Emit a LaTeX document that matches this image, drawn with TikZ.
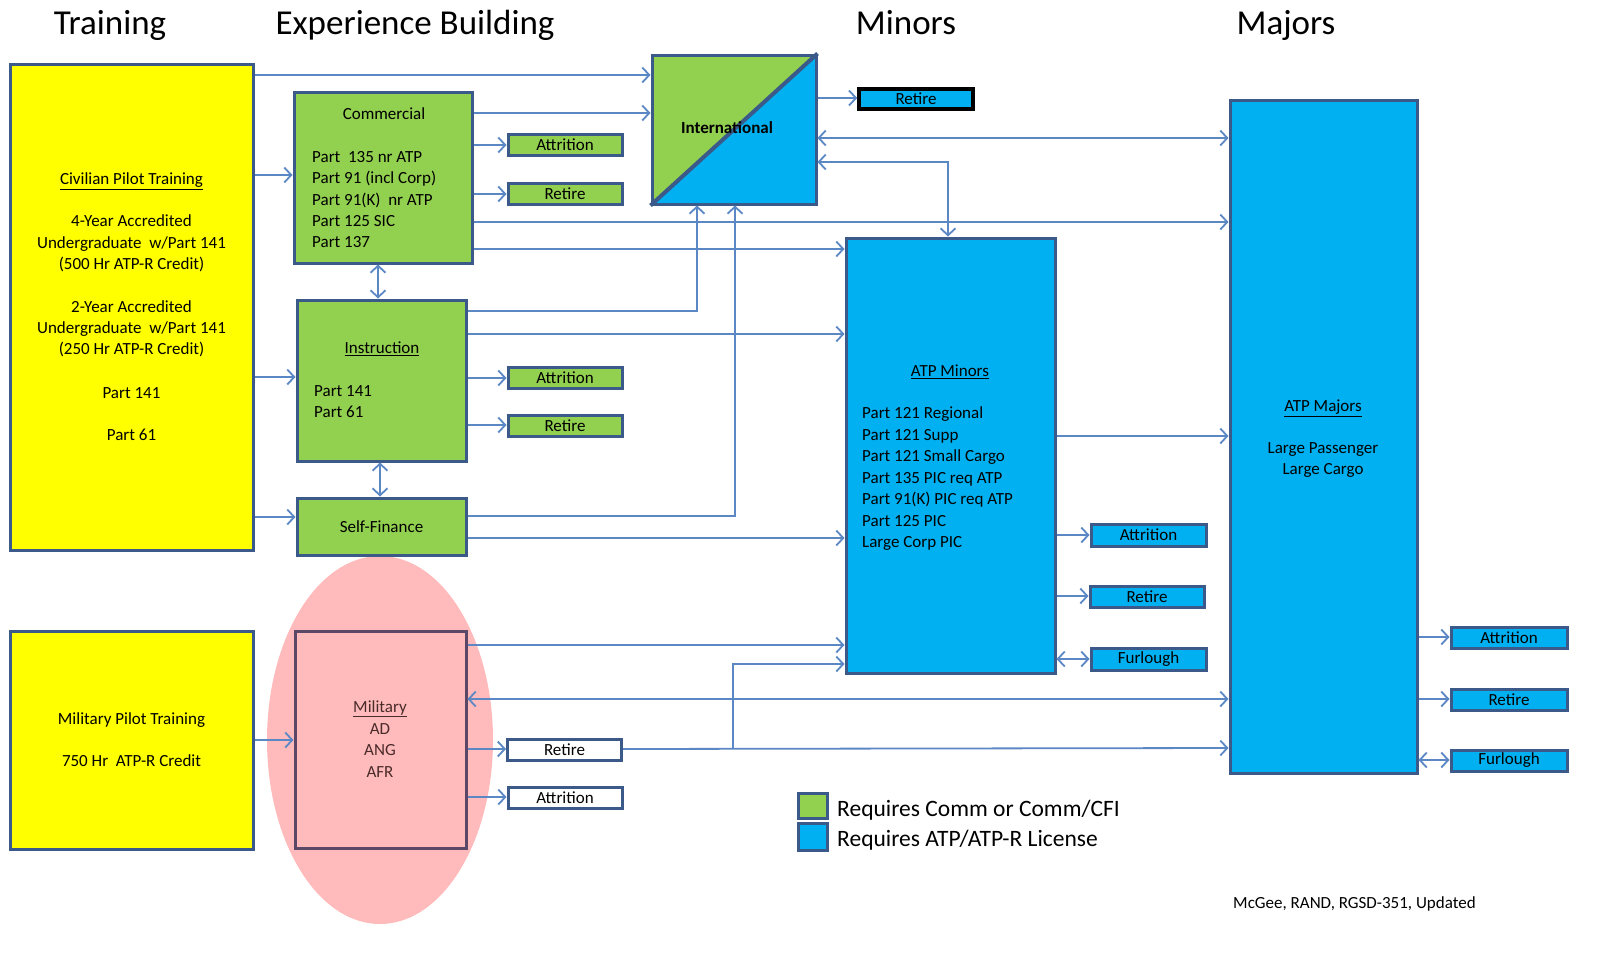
\documentclass[tikz,border=0pt]{standalone}
\usepackage{fontspec}
\setmainfont{Carlito}
\usetikzlibrary{arrows.meta}
\definecolor{cyel}{HTML}{FFFF00}
\definecolor{cgrn}{HTML}{92D050}
\definecolor{cblu}{HTML}{00B0F0}
\definecolor{cbrd}{HTML}{3B5A8A}
\definecolor{cline}{HTML}{5B87C5}
\definecolor{cpink}{HTML}{FFBBBB}
\definecolor{cmilb}{HTML}{5B4866}
\definecolor{cmilt}{HTML}{4A2A2A}
\begin{document}
\begin{tikzpicture}[x=1pt,y=-1pt,
  box/.style={draw=cbrd, line width=3pt, rectangle, inner sep=0pt},
  ybox/.style={box, fill=cyel},
  gbox/.style={box, fill=cgrn},
  bbox/.style={box, fill=cblu},
  wbox/.style={box, fill=white},
  small/.style={minimum width=114pt, minimum height=21pt, font=\fontsize{17}{20}\selectfont},
  txt/.style={inner sep=0pt, font=\fontsize{17}{20}\selectfont},
  head/.style={inner sep=0pt, font=\fontsize{35}{40}\selectfont, anchor=base},
  conn/.style={draw=cline, line width=1.8pt, -{Straight Barb[length=7pt,width=15pt]}},
  dconn/.style={draw=cline, line width=1.8pt, {Straight Barb[length=7pt,width=15pt]}-{Straight Barb[length=7pt,width=15pt]}},
]
\useasboundingbox (0,0) rectangle (1617,953);
\fill[white] (0,0) rectangle (1617,953);

% headings
\node[head] (hTrain) at (110,34) {Training};
\node[head] (hExp) at (415,34) {Experience Building};
\node[head] (hMin) at (906,34) {Minors};
\node[head] (hMaj) at (1286,34) {Majors};

% pink ellipse
\fill[cpink] (380,740) ellipse [x radius=113pt, y radius=184pt];

% training boxes
\node[ybox, minimum width=243pt, minimum height=486pt] (civ) at (131.5,307) {};
\node[ybox, minimum width=243pt, minimum height=218pt] (miltr) at (131.5,740) {};

% experience boxes
\node[gbox, minimum width=178pt, minimum height=171pt] (comm) at (383,177.5) {};
\node[gbox, minimum width=169pt, minimum height=161pt] (instr) at (381.5,380.5) {};
\node[gbox, minimum width=169pt, minimum height=57pt, txt] (selff) at (381.5,526.5) {Self-Finance};
\node[draw=cmilb, line width=3pt, fill=cpink, minimum width=171pt, minimum height=217pt, inner sep=0pt] (milb) at (380.5,739.5) {};

% small exit boxes
\node[gbox, small] (cattr) at (565,144.5) {Attrition};
\node[gbox, small] (cret) at (565,194) {Retire};
\node[gbox, small] (iattr) at (565,378) {Attrition};
\node[gbox, small] (iret) at (565,425.5) {Retire};
\node[wbox, small] (mret) at (564.5,749.5) {Retire};
\node[wbox, small] (mattr) at (565,798) {Attrition};

% international
\node[box, minimum width=164pt, minimum height=149pt,
  path picture={
    \fill[cgrn] (path picture bounding box.north west) -- (path picture bounding box.north east) -- (path picture bounding box.south west) -- cycle;
    \fill[cblu] (path picture bounding box.north east) -- (path picture bounding box.south east) -- (path picture bounding box.south west) -- cycle;
  }] (intl) at (734,129.5) {};
\draw[cbrd, line width=4pt] (intl.south west) -- (intl.north east);
\node[txt, font=\fontsize{17}{20}\selectfont\bfseries] (intlt) at (727,128) {International};
\node[draw=black, line width=3.5pt, fill=cblu, minimum width=114pt, minimum height=20pt, inner sep=0pt, font=\fontsize{17}{20}\selectfont] (intlret) at (916,99) {Retire};

% minors
\node[bbox, minimum width=209pt, minimum height=435pt] (minors) at (950.5,455.5) {};
\node[bbox, minimum width=115pt, minimum height=22pt, font=\fontsize{17}{20}\selectfont] (nattr) at (1148.5,535) {Attrition};
\node[bbox, minimum width=114pt, minimum height=21pt, font=\fontsize{17}{20}\selectfont] (nret) at (1147,596.5) {Retire};
\node[bbox, minimum width=115pt, minimum height=22pt, font=\fontsize{17}{20}\selectfont] (nfurl) at (1148.5,659) {Furlough};

% majors
\node[bbox, minimum width=187pt, minimum height=673pt] (majors) at (1323.5,436.5) {};
\node[bbox, minimum width=116pt, minimum height=21pt, font=\fontsize{17}{20}\selectfont] (jattr) at (1509,637.5) {Attrition};
\node[bbox, minimum width=116pt, minimum height=21pt, font=\fontsize{17}{20}\selectfont] (jret) at (1509,699.5) {Retire};
\node[bbox, minimum width=116pt, minimum height=21pt, font=\fontsize{17}{20}\selectfont] (jfurl) at (1509,760.5) {Furlough};

% texts in civilian box
\foreach \y/\t [count=\i] in {179/{\underline{Civilian Pilot Training}}, 221/{4-Year Accredited}, 243/{Undergraduate\ \ w/Part 141}, 264/{(500 Hr ATP-R Credit)}, 307/{2-Year Accredited}, 328/{Undergraduate\ \ w/Part 141}, 349/{(250 Hr ATP-R Credit)}, 393/{Part 141}, 435/{Part 61}}
  \node[txt, anchor=base] (civt\i) at (131.5,{\y+5.5}) {\t};
% military pilot training
\node[txt, anchor=base] (miltr1) at (131.5,724.5) {Military Pilot Training};
\node[txt, anchor=base] (miltr2) at (131.5,766.5) {750 Hr\ \ ATP-R Credit};
% commercial
\node[txt, anchor=base] (commt) at (384,119.5) {Commercial};
\foreach \t [count=\i] in {Part\ \ 135 nr ATP, Part 91 (incl Corp), Part 91(K)\ \ nr ATP, Part 125 SIC, Part 137}
  \node[txt, anchor=base west] (commt\i) at (312,{162.5+(\i-1)*21.3}) {\t};
% instruction
\node[txt, anchor=base] (instrt) at (382,353.5) {\underline{Instruction}};
\node[txt, anchor=base west] (instrt1) at (314,396.5) {Part 141};
\node[txt, anchor=base west] (instrt2) at (314,417.5) {Part 61};
% military
\node[txt, anchor=base, text=cmilt] (milt1) at (380,712.5) {\underline{Military}};
\node[txt, anchor=base, text=cmilt] (milt2) at (380,734) {AD};
\node[txt, anchor=base, text=cmilt] (milt3) at (380,755.5) {ANG};
\node[txt, anchor=base, text=cmilt] (milt4) at (380,777) {AFR};
% minors
\node[txt, anchor=base] (mint) at (950,376.5) {\underline{ATP Minors}};
\foreach \t [count=\i] in {Part 121 Regional, Part 121 Supp, Part 121 Small Cargo, Part 135 PIC req ATP, Part 91(K) PIC req ATP, Part 125 PIC, Large Corp PIC}
  \node[txt, anchor=base west] (mint\i) at (862,{418.5+(\i-1)*21.5}) {\t};
% majors
\node[txt, anchor=base] (majt) at (1323,411.5) {\underline{ATP Majors}};
\node[txt, anchor=base] (majt1) at (1323,453.5) {Large Passenger};
\node[txt, anchor=base] (majt2) at (1323,474.5) {Large Cargo};

% legend
\node[box, fill=cgrn, minimum width=29pt, minimum height=25pt] (lg1) at (812.5,805.5) {};
\node[box, fill=cblu, minimum width=29pt, minimum height=27pt] (lg2) at (812.5,836.5) {};
\node[inner sep=0pt, anchor=base west, font=\fontsize{23.5}{28}\selectfont] (lg1t) at (837,816) {Requires Comm or Comm/CFI};
\node[inner sep=0pt, anchor=base west, font=\fontsize{23.5}{28}\selectfont] (lg2t) at (837,846.5) {Requires ATP/ATP-R License};
\node[txt, anchor=base west] (cite) at (1233,908.5) {McGee, RAND, RGSD-351, Updated};

% connectors from training
\draw[conn] (civ.east |- 0,75) -- (intl.west |- 0,75);
\draw[conn] (civ.east |- 0,175) -- (comm.west |- 0,175);
\draw[conn] (civ.east |- 0,377) -- (instr.west |- 0,377);
\draw[conn] (civ.east |- 0,517) -- (selff.west |- 0,517);
\draw[conn] (miltr.east |- 0,740) -- (milb.west |- 0,740);

% commercial
\draw[conn] (comm.east |- 0,113) -- (intl.west |- 0,113);
\draw[conn] (comm.east |- 0,145) -- (cattr.west |- 0,145);
\draw[conn] (comm.east |- 0,194) -- (cret.west |- 0,194);
\draw[conn] (comm.east |- 0,222) -- (majors.west |- 0,222);
\draw[conn] (comm.east |- 0,249) -- (minors.west |- 0,249);
\draw[dconn] (comm.south -| 378,0) -- (instr.north -| 378,0);

% instruction
\draw[conn] (instr.east |- 0,311) -| (intl.south -| 697,0);
\draw[conn] (instr.east |- 0,334) -- (minors.west |- 0,334);
\draw[conn] (instr.east |- 0,378) -- (iattr.west |- 0,378);
\draw[conn] (instr.east |- 0,425) -- (iret.west |- 0,425);
\draw[dconn] (instr.south -| 380,0) -- (selff.north -| 380,0);

% self-finance
\draw[conn] (selff.east |- 0,516) -| (intl.south -| 735,0);
\draw[conn] (selff.east |- 0,538) -- (minors.west |- 0,538);

% international
\draw[conn] (intl.east |- 0,98) -- (intlret.west |- 0,98);
\draw[dconn] (intl.east |- 0,138) -- (majors.west |- 0,138);
\draw[dconn] (intl.east |- 0,162) -| (minors.north -| 948,0);

% minors
\draw[conn] (minors.east |- 0,436) -- (majors.west |- 0,436);
\draw[conn] (minors.east |- 0,535) -- (nattr.west |- 0,535);
\draw[conn] (minors.east |- 0,596) -- (nret.west |- 0,596);
\draw[dconn] (minors.east |- 0,659) -- (nfurl.west |- 0,659);

% military
\draw[conn] (milb.east |- 0,645) -- (minors.west |- 0,645);
\draw[dconn] (milb.east |- 0,699) -- (majors.west |- 0,699);
\draw[conn] (milb.east |- 0,749) -- (mret.west |- 0,749);
\draw[conn] (milb.east |- 0,797) -- (mattr.west |- 0,797);
\coordinate (br) at (733,749);
\draw[conn] (mret.east |- 0,749) -- (majors.west |- 0,748);
\draw[conn] (br) |- (minors.west |- 0,664);

% majors
\draw[conn] (majors.east |- 0,637) -- (jattr.west |- 0,637);
\draw[conn] (majors.east |- 0,699) -- (jret.west |- 0,699);
\draw[dconn] (majors.east |- 0,760) -- (jfurl.west |- 0,760);
\end{tikzpicture}
\end{document}
